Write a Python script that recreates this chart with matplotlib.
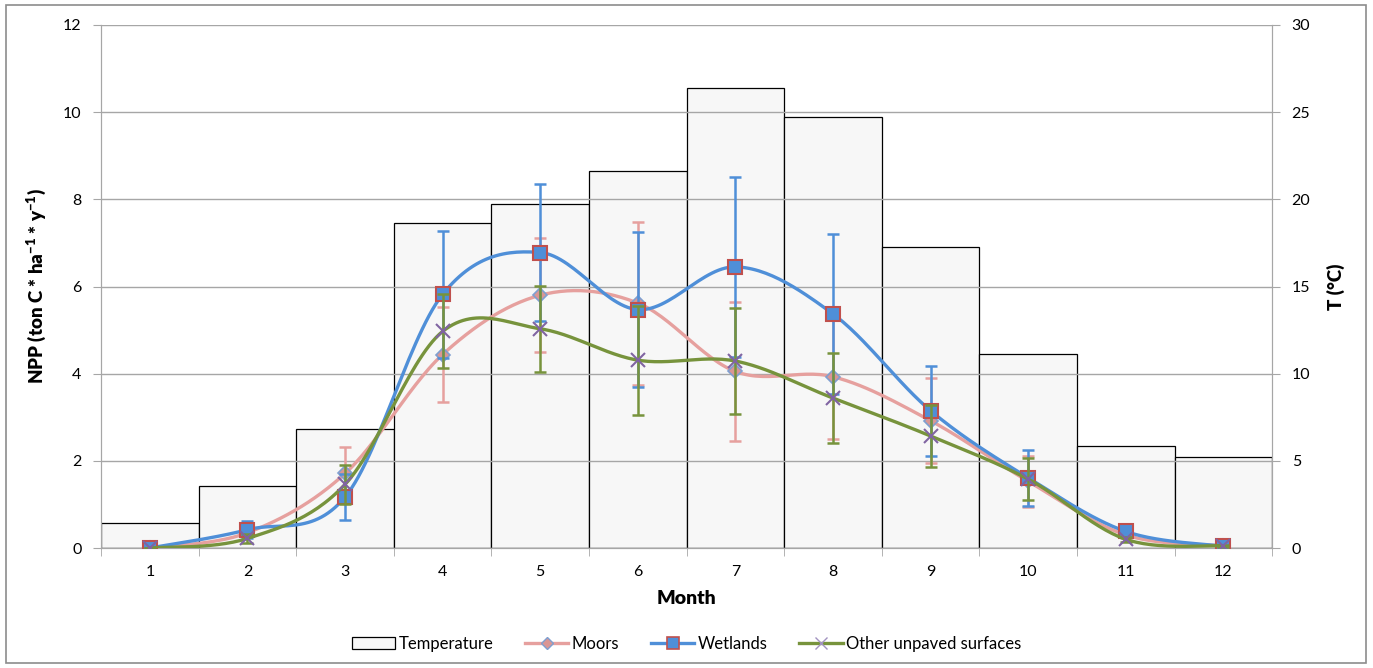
import matplotlib.pyplot as plt
import numpy as np
from matplotlib.patches import Rectangle, Patch
from matplotlib.lines import Line2D

plt.rcParams['font.family'] = ['Lato', 'DejaVu Sans']

months = np.arange(1, 13)
temperature = [1.43, 3.56, 6.83, 18.65, 19.74, 21.63, 26.39, 24.73, 17.27, 11.13, 5.85, 5.22]

moors = [0.0, 0.35, 1.71, 4.44, 5.80, 5.62, 4.05, 3.93, 2.92, 1.53, 0.30, 0.05]
moors_err = [0.0, 0.08, 0.61, 1.08, 1.31, 1.87, 1.59, 1.43, 0.98, 0.59, 0.08, 0.03]

wetlands = [0.0, 0.42, 1.17, 5.82, 6.78, 5.47, 6.45, 5.37, 3.15, 1.61, 0.38, 0.04]
wetlands_err = [0.0, 0.20, 0.52, 1.45, 1.57, 1.77, 2.06, 1.83, 1.03, 0.64, 0.08, 0.03]

other = [0.0, 0.22, 1.46, 4.97, 5.03, 4.31, 4.29, 3.44, 2.57, 1.58, 0.20, 0.05]
other_err = [0.0, 0.10, 0.44, 0.85, 0.99, 1.25, 1.22, 1.03, 0.70, 0.48, 0.06, 0.03]


def smooth(x, y, n=30):
    # Catmull-Rom style bezier segments (same smoothing as spreadsheet line charts)
    x = np.asarray(x, float)
    y = np.asarray(y, float)
    px = np.concatenate([[x[0]], x, [x[-1]]])
    py = np.concatenate([[y[0]], y, [y[-1]]])
    t = np.linspace(0, 1, n)[:, None]
    xs, ys = [], []
    for i in range(1, len(px) - 2):
        p0 = np.array([px[i - 1], py[i - 1]])
        p1 = np.array([px[i], py[i]])
        p2 = np.array([px[i + 1], py[i + 1]])
        p3 = np.array([px[i + 2], py[i + 2]])
        b1 = p1 + (p2 - p0) / 6
        b2 = p2 - (p3 - p1) / 6
        pts = ((1 - t) ** 3) * p1 + 3 * ((1 - t) ** 2) * t * b1 + 3 * (1 - t) * t ** 2 * b2 + t ** 3 * p2
        xs.append(pts[:, 0])
        ys.append(pts[:, 1])
    return np.concatenate(xs), np.concatenate(ys)


fig = plt.figure(figsize=(13.73, 6.68), dpi=100)
ax = fig.add_axes([0.0736, 0.1796, 0.853, 0.783])
ax2 = ax.twinx()
ax.set_zorder(ax2.get_zorder() + 1)
ax.patch.set_visible(False)

# temperature bars on the right axis
ax2.bar(months, temperature, width=1.0, color='#F7F7F7', edgecolor='black', linewidth=0.9, zorder=1)
ax2.set_ylim(0, 30)
ax2.set_yticks(range(0, 31, 5))

ax.set_xlim(0.5, 12.5)
ax.set_ylim(0, 12)
ax.set_yticks(range(0, 13, 2))
ax.grid(axis='y', color='#A6A6A6', linewidth=1.0, zorder=0)

series = [
    ('Moors', moors, moors_err, '#E6A09E', dict(marker='D', markersize=7.5, markerfacecolor='#DA9694', markeredgecolor='#7F9FD0', markeredgewidth=1.2)),
    ('Wetlands', wetlands, wetlands_err, '#4F8FD8', dict(marker='s', markersize=10, markerfacecolor='#4F8FD8', markeredgecolor='#C0504D', markeredgewidth=1.5)),
    ('Other unpaved surfaces', other, other_err, '#77933C', dict(marker='x', markersize=10, markeredgecolor='#8064A2', markeredgewidth=1.5)),
]
for z, (name, vals, errs, col, mk) in enumerate(series):
    ax.errorbar(months, vals, yerr=errs, fmt='none', ecolor=col, elinewidth=1.8, capsize=4, capthick=1.8, zorder=3 + z)
    sx, sy = smooth(months, vals)
    ax.plot(sx, sy, color=col, linewidth=2.4, zorder=3 + z, solid_capstyle='round')
    ax.plot(months, vals, linestyle='none', zorder=3.5 + z, **mk)

# category ticks between months, labels centred
ax.set_xticks(months)
ax.set_xticks(np.arange(0.5, 13, 1), minor=True)
ax.tick_params(axis='x', which='major', length=0, pad=12, labelsize=11.5)
ax.tick_params(axis='x', which='minor', length=6, color='#A6A6A6', direction='out')
ax.tick_params(axis='y', length=6, color='#A6A6A6', labelsize=11.5, pad=8)
ax2.tick_params(axis='y', length=6, color='#A6A6A6', labelsize=11.5, pad=8)

for a in (ax, ax2):
    for s in a.spines.values():
        s.set_color('#A6A6A6')
    a.spines['top'].set_visible(False)

ax.set_xlabel('Month', fontsize=14, fontweight='heavy', labelpad=8)
ax.set_ylabel('NPP (ton C * ha$^{\\mathregular{-1}}$ * y$^{\\mathregular{-1}}$)', fontsize=13.5,
              fontweight='heavy', labelpad=10)
ax2.set_ylabel('T (°C)', fontsize=13.5, fontweight='heavy', labelpad=12)

legend_marks = [
    dict(marker='D', markersize=6.5, markerfacecolor='#DA9694', markeredgecolor='#7F9FD0', markeredgewidth=1.0),
    dict(marker='s', markersize=8, markerfacecolor='#4F8FD8', markeredgecolor='#C0504D', markeredgewidth=1.2),
    dict(marker='x', markersize=8, markeredgecolor='#A293C0', markeredgewidth=1.0),
]
handles = [Patch(facecolor='#F7F7F7', edgecolor='black', linewidth=0.9)]
for (name, vals, errs, col, mk), lm in zip(series, legend_marks):
    handles.append(Line2D([], [], color=col, linewidth=2.4, **lm))
labels = ['Temperature', 'Moors', 'Wetlands', 'Other unpaved surfaces']
fig.legend(handles, labels, loc='center', bbox_to_anchor=(0.5, 0.036), ncol=4, frameon=False,
           fontsize=12, handlelength=2.6, handletextpad=0.2, columnspacing=1.9)

# outer chart border
fig.patches.append(Rectangle((6 / 1373, 5 / 668), 1360 / 1373, 658 / 668, transform=fig.transFigure,
                             fill=False, edgecolor='#8C8C8C', linewidth=1.2))

fig.savefig('out.png', dpi=100)
